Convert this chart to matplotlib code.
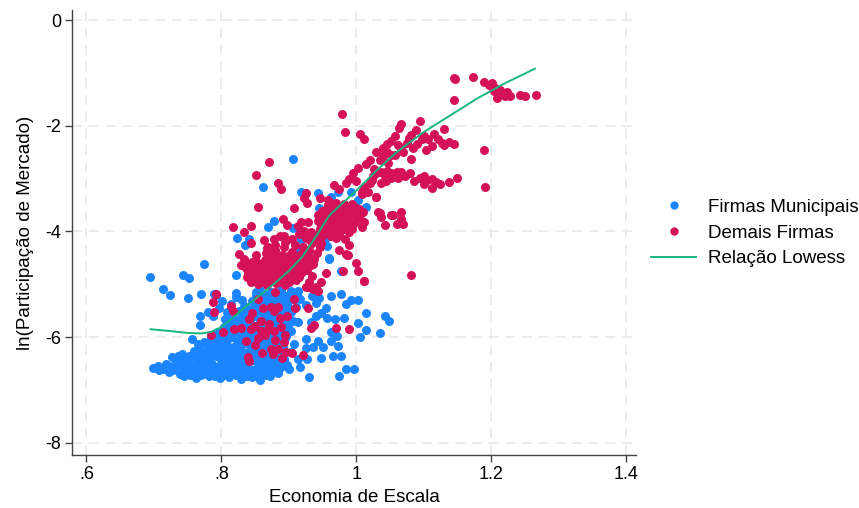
import matplotlib
matplotlib.use("Agg")
import matplotlib.pyplot as plt
from matplotlib.lines import Line2D

# ---- data: (economia de escala, ln participação de mercado) ----
municipais = [
    # sparse left group
    (0.694, -4.87), (0.743, -4.83), (0.752, -4.89), (0.774, -4.62), (0.713, -5.08),
    (0.724, -5.21), (0.750, -5.26), (0.770, -5.19), (0.822, -4.83), (0.822, -5.17),
    (0.789, -5.19), (0.780, -5.53), (0.768, -5.60), (0.768, -5.77), (0.756, -6.04),
    (0.765, -6.13), (0.792, -5.20), (0.801, -5.31), (0.796, -5.45), (0.808, -5.52),
    (0.815, -5.38), (0.821, -5.24), (0.805, -5.65), (0.787, -5.60), (0.830, -5.30),
    # dense core
    (0.745, -6.74), (0.762, -6.77), (0.781, -6.73), (0.798, -6.78), (0.812, -6.75),
    (0.829, -6.80), (0.846, -6.76), (0.858, -6.82), (0.872, -6.74),
    (0.722, -6.66), (0.738, -6.70), (0.756, -6.67), (0.771, -6.69), (0.789, -6.65),
    (0.805, -6.70), (0.821, -6.66), (0.836, -6.69), (0.852, -6.64), (0.867, -6.70),
    (0.884, -6.67), (0.708, -6.62),
    (0.698, -6.58), (0.714, -6.61), (0.731, -6.57), (0.748, -6.60), (0.764, -6.58),
    (0.779, -6.62), (0.794, -6.57), (0.811, -6.60), (0.826, -6.58), (0.842, -6.61),
    (0.858, -6.57), (0.873, -6.60), (0.889, -6.56),
    (0.718, -6.50), (0.736, -6.48), (0.752, -6.52), (0.769, -6.49), (0.786, -6.51),
    (0.803, -6.47), (0.818, -6.52), (0.834, -6.49), (0.851, -6.46), (0.866, -6.51),
    (0.881, -6.48), (0.897, -6.52),
    (0.727, -6.38), (0.744, -6.41), (0.760, -6.37), (0.776, -6.40), (0.792, -6.36),
    (0.808, -6.42), (0.823, -6.38), (0.839, -6.41), (0.855, -6.37), (0.870, -6.42),
    (0.886, -6.39),
    (0.741, -6.31), (0.757, -6.33), (0.773, -6.29), (0.789, -6.32), (0.804, -6.28),
    (0.819, -6.33), (0.835, -6.30), (0.850, -6.27), (0.866, -6.31), (0.880, -6.34),
    (0.768, -6.22), (0.783, -6.19), (0.799, -6.23), (0.814, -6.20), (0.829, -6.24),
    (0.845, -6.21), (0.861, -6.18), (0.876, -6.23), (0.892, -6.20),
    (0.774, -6.10), (0.790, -6.13), (0.806, -6.09), (0.821, -6.14), (0.837, -6.11),
    (0.852, -6.08), (0.868, -6.13), (0.884, -6.10),
    (0.785, -6.01), (0.801, -6.04), (0.816, -5.99), (0.831, -6.03), (0.847, -6.00),
    (0.863, -6.04), (0.878, -5.98), (0.894, -6.02),
    (0.793, -5.91), (0.809, -5.94), (0.824, -5.90), (0.840, -5.93), (0.856, -5.89),
    (0.871, -5.94), (0.887, -5.91), (0.903, -5.88),
    (0.804, -5.81), (0.819, -5.84), (0.835, -5.80), (0.851, -5.83), (0.866, -5.79),
    (0.882, -5.84), (0.898, -5.80),
    (0.812, -5.71), (0.827, -5.74), (0.843, -5.70), (0.858, -5.73), (0.874, -5.69),
    (0.890, -5.74), (0.906, -5.70),
    (0.818, -5.61), (0.834, -5.64), (0.849, -5.60), (0.865, -5.63), (0.880, -5.59),
    (0.896, -5.63),
    (0.826, -5.51), (0.841, -5.54), (0.857, -5.50), (0.872, -5.53), (0.888, -5.49),
    (0.903, -5.52),
    (0.833, -5.41), (0.849, -5.44), (0.864, -5.40), (0.880, -5.43), (0.895, -5.39),
    (0.910, -5.43),
    (0.845, -5.31), (0.860, -5.34), (0.876, -5.30), (0.891, -5.33),
    (0.852, -5.21), (0.867, -5.24), (0.883, -5.20), (0.898, -5.23), (0.912, -5.19),
    (0.858, -5.11), (0.874, -5.14), (0.889, -5.10), (0.903, -5.13),
    # core, in-between rows
    (0.753, -6.72), (0.770, -6.71), (0.790, -6.73), (0.806, -6.72), (0.821, -6.71),
    (0.838, -6.73), (0.853, -6.72), (0.866, -6.71),
    (0.729, -6.63), (0.747, -6.64), (0.763, -6.62), (0.779, -6.64), (0.797, -6.63),
    (0.813, -6.62), (0.830, -6.64), (0.846, -6.63), (0.862, -6.62), (0.878, -6.64),
    (0.706, -6.55), (0.723, -6.54), (0.741, -6.56), (0.758, -6.55), (0.774, -6.54),
    (0.790, -6.56), (0.807, -6.55), (0.823, -6.54), (0.839, -6.56), (0.854, -6.55),
    (0.871, -6.54), (0.887, -6.56),
    (0.733, -6.45), (0.750, -6.44), (0.765, -6.46), (0.781, -6.45), (0.799, -6.44),
    (0.815, -6.46), (0.830, -6.45), (0.847, -6.44), (0.862, -6.46), (0.878, -6.45),
    (0.893, -6.44),
    (0.735, -6.35), (0.752, -6.36), (0.767, -6.34), (0.784, -6.35), (0.800, -6.36),
    (0.816, -6.34), (0.831, -6.35), (0.846, -6.36), (0.861, -6.34), (0.876, -6.35),
    (0.760, -6.27), (0.777, -6.26), (0.792, -6.28), (0.808, -6.27), (0.824, -6.26),
    (0.840, -6.28), (0.856, -6.27), (0.871, -6.26), (0.886, -6.28),
    (0.781, -6.17), (0.797, -6.16), (0.812, -6.18), (0.828, -6.17), (0.844, -6.16),
    (0.860, -6.18), (0.876, -6.17), (0.891, -6.16),
    (0.792, -6.07), (0.808, -6.06), (0.824, -6.08), (0.840, -6.07), (0.856, -6.06),
    (0.872, -6.08), (0.888, -6.07),
    (0.800, -5.97), (0.816, -5.96), (0.832, -5.98), (0.848, -5.97), (0.864, -5.96),
    (0.880, -5.98), (0.896, -5.97),
    (0.811, -5.87), (0.827, -5.86), (0.843, -5.88), (0.859, -5.87), (0.875, -5.86),
    (0.891, -5.88),
    (0.818, -5.77), (0.834, -5.76), (0.850, -5.78), (0.866, -5.77), (0.882, -5.76),
    (0.897, -5.78),
    (0.826, -5.67), (0.841, -5.66), (0.857, -5.68), (0.873, -5.67), (0.888, -5.66),
    (0.904, -5.68),
    (0.833, -5.57), (0.849, -5.56), (0.865, -5.58), (0.880, -5.57), (0.895, -5.56),
    (0.840, -5.47), (0.856, -5.46), (0.871, -5.48), (0.887, -5.47), (0.902, -5.46),
    (0.851, -5.37), (0.867, -5.36), (0.883, -5.38), (0.898, -5.37),
    (0.858, -5.27), (0.874, -5.26), (0.890, -5.28), (0.905, -5.27),
    # right-hand group
    (0.962, -5.22), (0.978, -5.19), (0.993, -5.30), (1.002, -5.30), (1.014, -5.55),
    (1.043, -5.60), (1.048, -5.70), (1.036, -5.92), (1.014, -5.87), (1.003, -5.74),
    (1.005, -6.00), (0.982, -5.64), (0.968, -5.66), (0.956, -5.64), (0.941, -5.60),
    (0.948, -5.55), (0.933, -5.72), (0.963, -5.91), (0.972, -5.98), (0.963, -6.08),
    (0.973, -6.17), (0.951, -6.19), (0.966, -6.36), (0.978, -6.36), (0.936, -6.19),
    (0.926, -6.21), (0.948, -6.40), (0.985, -6.60), (0.997, -6.60), (0.975, -6.74),
    (0.930, -6.75), (0.917, -6.57), (0.901, -6.60), (0.884, -6.66), (0.914, -6.42),
    (0.927, -6.42), (0.893, -6.42), (0.904, -6.28), (0.926, -6.04), (0.908, -6.13),
    (0.944, -6.08), (0.914, -5.72), (0.899, -5.79), (0.896, -5.57), (0.934, -5.22),
    (0.945, -5.25), (0.914, -5.13), (0.916, -5.28), (0.893, -5.22), (0.893, -5.34),
    (0.863, -5.19), (0.852, -5.15), (0.977, -4.75), (0.960, -4.53), (0.925, -5.40),
    (0.940, -5.35), (0.955, -5.45), (0.985, -5.38),
    # upper group, mostly among the other firms
    (0.862, -3.15), (0.907, -2.62), (0.918, -3.26), (0.944, -3.28), (0.963, -3.34),
    (0.973, -3.26), (0.993, -3.26), (1.003, -3.40), (1.015, -3.53), (0.945, -3.55),
    (0.878, -3.81), (0.869, -3.91), (0.907, -3.94), (0.823, -4.13), (0.835, -4.26),
    (0.841, -4.15), (0.918, -4.15), (0.911, -4.30), (0.916, -4.40), (0.953, -4.15),
    (0.960, -4.51), (0.956, -4.28), (0.870, -4.55), (0.885, -4.75), (0.900, -4.95),
    (0.915, -4.85), (0.860, -4.80),
]

demais = [
    # lower group
    (0.792, -5.19), (0.788, -5.34), (0.814, -5.42), (0.817, -5.51), (0.854, -5.28),
    (0.879, -5.15), (0.874, -5.43), (0.884, -5.43), (0.878, -5.51), (0.908, -5.28),
    (0.909, -5.45), (0.929, -5.45), (0.944, -5.13), (0.929, -5.06), (0.936, -5.09),
    (0.987, -4.45), (1.002, -4.74), (1.012, -4.94), (0.980, -4.74), (0.789, -5.53),
    (0.785, -5.96), (0.802, -5.91), (0.819, -5.85), (0.829, -5.83), (0.837, -6.08),
    (0.844, -5.85), (0.841, -5.66), (0.859, -5.70), (0.859, -5.89), (0.878, -5.89),
    (0.889, -5.81), (0.887, -5.64), (0.869, -5.85), (0.933, -5.83), (0.938, -5.77),
    (0.970, -5.83), (0.990, -5.85), (0.893, -6.09), (0.874, -6.23), (0.884, -6.23),
    (0.896, -6.28), (0.877, -6.32), (0.921, -6.34), (0.839, -6.38), (0.841, -6.45),
    (0.850, -5.78), (0.865, -5.95), (0.855, -6.02), (0.880, -6.05), (0.870, -5.75),
    (0.895, -5.95), (0.860, -6.30), (0.850, -6.15), (0.890, -6.40), (0.905, -6.30),
    (0.845, -5.55), (0.862, -5.45), (0.898, -5.60),
    # central block
    (0.905, -4.38), (0.918, -4.42), (0.930, -4.36), (0.942, -4.41),
    (0.872, -4.49), (0.886, -4.52), (0.899, -4.47), (0.912, -4.51), (0.925, -4.48),
    (0.938, -4.53),
    (0.845, -4.58), (0.858, -4.62), (0.871, -4.57), (0.884, -4.61), (0.897, -4.58),
    (0.910, -4.63), (0.923, -4.59), (0.936, -4.62),
    (0.836, -4.69), (0.849, -4.72), (0.862, -4.68), (0.875, -4.71), (0.888, -4.67),
    (0.901, -4.72), (0.914, -4.69), (0.927, -4.73),
    (0.840, -4.79), (0.853, -4.82), (0.866, -4.78), (0.879, -4.81), (0.892, -4.77),
    (0.905, -4.82), (0.918, -4.79),
    (0.846, -4.89), (0.859, -4.92), (0.872, -4.88), (0.885, -4.91), (0.898, -4.87),
    (0.911, -4.92),
    (0.854, -4.99), (0.868, -5.02), (0.881, -4.98), (0.894, -5.01),
    (0.890, -4.45), (0.903, -4.44), (0.916, -4.46), (0.929, -4.45),
    (0.852, -4.55), (0.865, -4.54), (0.878, -4.56), (0.891, -4.55), (0.904, -4.54),
    (0.917, -4.56), (0.930, -4.55),
    (0.842, -4.65), (0.855, -4.64), (0.868, -4.66), (0.881, -4.65), (0.894, -4.64),
    (0.907, -4.66), (0.920, -4.65), (0.933, -4.64),
    (0.843, -4.75), (0.856, -4.74), (0.869, -4.76), (0.882, -4.75), (0.895, -4.74),
    (0.908, -4.76), (0.921, -4.75),
    (0.850, -4.85), (0.863, -4.84), (0.876, -4.86), (0.889, -4.85), (0.902, -4.84),
    (0.915, -4.86),
    (0.861, -4.95), (0.874, -4.94), (0.887, -4.96), (0.900, -4.95),
    (0.826, -4.43), (0.834, -4.52), (0.829, -4.63), (0.838, -4.86), (0.852, -4.45),
    (0.866, -4.40), (0.880, -4.36), (0.893, -4.30), (0.909, -4.25), (0.921, -4.30),
    (0.934, -4.22), (0.946, -4.30), (0.841, -4.62), (0.844, -4.96), (0.869, -4.94),
    (0.935, -4.85), (0.948, -4.95), (0.940, -5.05), (0.955, -4.78), (0.930, -4.95),
    (0.926, -5.06), (0.999, -4.60), (0.975, -4.35), (0.990, -4.25),
    (0.925, -4.12), (0.937, -4.18), (0.948, -4.22), (0.915, -4.05), (0.905, -4.15),
    (0.895, -4.20), (0.880, -4.25),
    # second block
    (0.950, -3.62), (0.962, -3.66), (0.975, -3.60), (0.987, -3.64), (0.999, -3.68),
    (1.010, -3.63),
    (0.955, -3.75), (0.967, -3.78), (0.979, -3.72), (0.991, -3.77), (1.003, -3.74),
    (0.944, -3.80),
    (0.948, -3.88), (0.960, -3.91), (0.972, -3.86), (0.984, -3.90), (0.996, -3.85),
    (1.008, -3.92),
    (0.953, -4.00), (0.965, -4.03), (0.977, -3.98), (0.989, -4.02), (0.940, -4.06),
    (0.970, -4.12), (0.983, -4.15),
    (0.958, -3.50), (0.970, -3.46), (0.982, -3.52), (0.994, -3.48),
    (0.956, -3.56), (0.968, -3.57), (0.980, -3.55), (0.992, -3.56), (1.004, -3.57),
    (0.944, -3.69), (0.956, -3.70), (0.968, -3.68), (0.981, -3.69), (0.993, -3.70),
    (1.005, -3.68),
    (0.950, -3.82), (0.962, -3.83), (0.974, -3.81), (0.986, -3.82), (0.998, -3.83),
    (0.946, -3.95), (0.958, -3.96), (0.970, -3.94), (0.982, -3.95), (0.994, -3.96),
    (0.950, -4.08), (0.962, -4.09), (0.975, -4.07),
    (0.871, -2.68), (0.851, -2.94), (0.884, -3.09), (0.889, -3.19), (0.854, -3.53),
    (0.908, -3.55), (0.923, -3.36), (0.926, -3.28), (0.927, -3.47), (0.947, -3.36),
    (0.958, -3.40), (0.967, -3.13), (0.961, -3.47), (0.972, -3.53), (0.982, -3.49),
    (0.990, -3.58), (1.000, -3.55), (1.009, -3.30), (1.017, -3.26), (1.023, -3.02),
    (1.030, -3.34), (1.033, -3.64), (0.892, -3.77), (0.898, -3.87), (0.817, -3.91),
    (0.834, -4.02), (0.844, -3.89), (0.863, -4.17), (0.878, -4.15), (0.887, -4.09),
    (0.893, -4.08), (0.914, -3.89), (0.918, -3.83), (0.929, -3.83), (0.923, -4.00),
    (0.933, -4.02), (0.929, -4.15), (0.942, -4.09), (0.963, -4.09), (0.988, -4.45),
    (0.868, -4.32), (0.869, -4.30), (0.878, -4.40), (0.844, -4.21), (0.985, -4.43),
    (1.037, -3.72), (1.052, -3.68), (1.060, -3.85), (1.067, -3.77), (1.035, -3.66),
    (1.054, -3.68), (1.066, -3.64), (1.043, -3.87), (1.070, -3.85), (1.012, -3.83),
    (1.081, -4.83), (1.012, -4.94),
    # upper trail
    (1.030, -2.50), (1.040, -2.58), (1.020, -2.65), (1.015, -2.72), (1.003, -2.80),
    (0.995, -2.90), (0.990, -3.00), (0.985, -3.08), (1.000, -3.05), (0.975, -3.20),
    (1.027, -2.81), (1.025, -2.96), (1.037, -2.87), (1.045, -2.85), (1.052, -2.89),
    (1.060, -2.87), (1.067, -2.87), (1.073, -2.96), (1.052, -2.98), (1.037, -3.09),
    (1.020, -3.08), (1.012, -3.15), (1.008, -3.25), (1.015, -3.26), (1.030, -3.34),
    (1.081, -2.62), (1.062, -2.98), (1.044, -3.04),
    (1.035, -2.65), (1.047, -2.70), (1.058, -2.55), (1.070, -2.50), (1.090, -2.35),
    (1.100, -2.20), (1.115, -2.15), (1.058, -2.20), (1.045, -2.35), (1.030, -2.90),
    (1.042, -2.95), (1.058, -2.93), (1.080, -2.90), (1.085, -3.05), (1.105, -3.02),
    (1.125, -3.10),
    (0.979, -1.77), (0.984, -2.11), (1.006, -2.15), (1.011, -2.25), (1.066, -1.96),
    (1.064, -2.04), (1.094, -1.91), (1.130, -2.06), (1.051, -2.28), (1.040, -2.42),
    (1.045, -2.49), (1.052, -2.55), (1.062, -2.36), (1.067, -2.42), (1.078, -2.23),
    (1.082, -2.17), (1.075, -2.32), (1.084, -2.42), (1.089, -2.09), (1.097, -2.26),
    (1.106, -2.25), (1.104, -2.45), (1.113, -2.38), (1.122, -2.25), (1.128, -2.32),
    (1.137, -2.30), (1.094, -2.98), (1.101, -2.96), (1.100, -3.11), (1.112, -3.00),
    (1.119, -3.06), (1.113, -3.17), (1.137, -3.06), (1.149, -2.98), (1.189, -2.45),
    (1.191, -3.15), (1.145, -2.34), (1.130, -2.36),
    # top group
    (1.145, -1.09), (1.146, -1.11), (1.173, -1.08), (1.145, -1.51), (1.189, -1.17),
    (1.197, -1.23), (1.201, -1.26), (1.206, -1.28), (1.216, -1.38), (1.224, -1.36),
    (1.221, -1.43), (1.228, -1.43), (1.209, -1.47), (1.243, -1.42), (1.250, -1.43),
    (1.267, -1.42), (1.201, -1.20), (1.205, -1.34), (1.213, -1.32),
]

# smoothed (lowess) relation
lowess_x = [0.695, 0.72, 0.75, 0.77, 0.785, 0.80, 0.82, 0.84, 0.86, 0.88, 0.90,
            0.92, 0.94, 0.96, 0.98, 1.00, 1.03, 1.06, 1.10, 1.14, 1.18, 1.22,
            1.265]
lowess_y = [-5.85, -5.88, -5.92, -5.93, -5.90, -5.81, -5.60, -5.38, -5.18, -4.97,
            -4.75, -4.48, -4.10, -3.70, -3.46, -3.23, -2.85, -2.50, -2.12, -1.80,
            -1.48, -1.20, -0.92]

x_ticks = [0.6, 0.8, 1.0, 1.2, 1.4]
x_tick_labels = [".6", ".8", "1", "1.2", "1.4"]
y_ticks = [0, -2, -4, -6, -8]
y_tick_labels = ["0", "-2", "-4", "-6", "-8"]

BLUE = "#1a85ff"
RED = "#d41159"
GREEN = "#17b67c"

plt.rcParams["font.family"] = ["Liberation Sans", "DejaVu Sans"]

fig = plt.figure(figsize=(8.59, 5.08), dpi=100)
ax = fig.add_axes([72 / 859, 1 - 455 / 508, (636 - 72) / 859, (455 - 10) / 508])

mx, my = zip(*municipais)
dx, dy = zip(*demais)
ax.scatter(mx, my, s=42, color=BLUE, linewidths=0, zorder=3)
ax.scatter(dx, dy, s=42, color=RED, linewidths=0, zorder=4)
ax.plot(lowess_x, lowess_y, color=GREEN, lw=1.4, zorder=5)

ax.set_xlim(0.5785, 1.415)
ax.set_ylim(-8.23, 0.19)
ax.set_xticks(x_ticks)
ax.set_xticklabels(x_tick_labels)
ax.set_yticks(y_ticks)
ax.set_yticklabels(y_tick_labels)
ax.tick_params(axis="both", labelsize=13, length=5, width=1, color="#444444",
               pad=3)

ax.grid(True, color="#e9e9e9", linestyle=(0, (6, 4)), linewidth=1.2, zorder=0)
ax.set_axisbelow(True)
for side in ("top", "right"):
    ax.spines[side].set_visible(False)
for side in ("left", "bottom"):
    ax.spines[side].set_color("#444444")
    ax.spines[side].set_linewidth(1.0)

ax.set_xlabel("Economia de Escala", fontsize=13.5, labelpad=4)
ax.set_ylabel("ln(Participação de Mercado)", fontsize=13.5, labelpad=8)

handles = [
    Line2D([], [], marker="o", linestyle="none", markersize=6,
           markerfacecolor=BLUE, markeredgewidth=0),
    Line2D([], [], marker="o", linestyle="none", markersize=6,
           markerfacecolor=RED, markeredgewidth=0),
    Line2D([], [], color=GREEN, lw=1.4),
]
labels = ["Firmas Municipais", "Demais Firmas", "Relação Lowess"]
fig.legend(handles, labels, loc="center left",
           bbox_to_anchor=(651 / 859, 1 - 233 / 508), frameon=False,
           fontsize=13.5, handlelength=2.4, handletextpad=0.65,
           labelspacing=0.45, borderpad=0, borderaxespad=0)

fig.savefig("out.png", dpi=100)
